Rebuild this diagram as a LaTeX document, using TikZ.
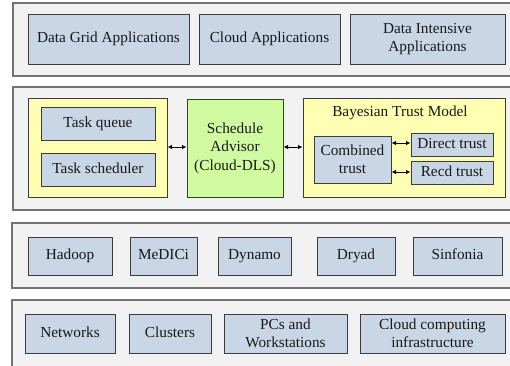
\documentclass[tikz,border=0pt]{standalone}
\usepackage{fontspec}
\setmainfont{Liberation Serif}
\usetikzlibrary{arrows.meta}
\definecolor{panelfill}{RGB}{242,242,242}
\definecolor{panelline}{RGB}{115,115,115}
\definecolor{boxfill}{RGB}{201,214,230}
\definecolor{boxline}{RGB}{60,60,60}
\definecolor{yellowfill}{RGB}{255,255,180}
\definecolor{greenfill}{RGB}{208,250,160}
\definecolor{txt}{RGB}{25,25,25}
\tikzset{
  panel/.style={draw=panelline, fill=panelfill, line width=1.1pt},
  bbox/.style={draw=boxline, fill=boxfill, line width=1pt, inner sep=0pt, align=center, text=txt},
  oneline/.style={text height=10.5pt, text depth=3.3pt},
  ybox/.style={draw=boxline, fill=yellowfill, line width=1pt, inner sep=0pt},
  gbox/.style={draw=boxline, fill=greenfill, line width=1pt, inner sep=0pt, align=center, text=txt},
  dblarrow/.style={{Latex[length=4.5pt,width=4.5pt]}-{Latex[length=4.5pt,width=4.5pt]}, line width=1pt, draw=black},
}
\begin{document}
\begin{tikzpicture}[x=1pt,y=-1pt,font=\fontsize{15.3}{18.5}\selectfont]
\useasboundingbox (0,0) rectangle (510,365);
\clip (0,0) rectangle (510,365);
% panels
\draw[panel] (13,3) rectangle (516,76);
\draw[panel] (13,87) rectangle (516,210);
\draw[panel] (12,223) rectangle (516,288);
\draw[panel] (12,300) rectangle (516,372);
% row 1
\node[bbox, oneline, minimum width=161pt, minimum height=50pt] (dg) at (108.5,39) {Data Grid Applications};
\node[bbox, oneline, minimum width=141pt, minimum height=50pt] (ca) at (269.5,39) {Cloud Applications};
\node[bbox, minimum width=155pt, minimum height=50pt] (di) at (427.5,39) {Data Intensive\\Applications};
% row 2
\node[ybox, minimum width=139pt, minimum height=99pt] (yl) at (97.5,147.5) {};
\node[bbox, oneline, minimum width=114pt, minimum height=33pt] (tq) at (98,123.5) {Task queue};
\node[bbox, oneline, minimum width=114pt, minimum height=33pt] (ts) at (98,169.5) {Task scheduler};
\node[gbox, minimum width=96pt, minimum height=98pt] (sa) at (235,148) {Schedule\\Advisor\\(Cloud-DLS)};
\node[ybox, minimum width=202pt, minimum height=99pt] (yr) at (404,147.5) {};
\node[text=txt, oneline, inner sep=0pt] (bt) at (400,113) {Bayesian Trust Model};
\node[bbox, minimum width=77pt, minimum height=47pt] (ct) at (352.5,159.5) {Combined\\trust};
\node[bbox, oneline, minimum width=82pt, minimum height=23pt] (dt) at (452,144.5) {Direct trust};
\node[bbox, oneline, minimum width=82pt, minimum height=23pt] (rt) at (452,172.5) {Recd trust};
\draw[dblarrow] (yl.east |- 0,147) -- (sa.west |- 0,147);
\draw[dblarrow] (sa.east |- 0,147) -- (yr.west |- 0,147);
\draw[dblarrow] (ct.east |- 0,143) -- (dt.west |- 0,143);
\draw[dblarrow] (ct.east |- 0,172) -- (rt.west |- 0,172);
% row 3
\node[bbox, oneline, minimum width=84pt, minimum height=38pt] (hd) at (70,256) {Hadoop};
\node[bbox, oneline, minimum width=67pt, minimum height=38pt] (md) at (163.5,256) {MeDICi};
\node[bbox, oneline, minimum width=73pt, minimum height=38pt] (dy) at (254.5,256) {Dynamo};
\node[bbox, oneline, minimum width=78pt, minimum height=38pt] (dr) at (356,256) {Dryad};
\node[bbox, oneline, minimum width=89pt, minimum height=38pt] (sf) at (457.5,256) {Sinfonia};
% row 4
\node[bbox, oneline, minimum width=90pt, minimum height=39pt] (nw) at (70,333.5) {Networks};
\node[bbox, oneline, minimum width=82pt, minimum height=39pt] (cl) at (170,333.5) {Clusters};
\node[bbox, minimum width=123pt, minimum height=39pt] (pc) at (285.5,333.5) {PCs and\\Workstations};
\node[bbox, minimum width=145pt, minimum height=39pt] (cc) at (432.5,333.5) {Cloud computing\\infrastructure};
\end{tikzpicture}
\end{document}
